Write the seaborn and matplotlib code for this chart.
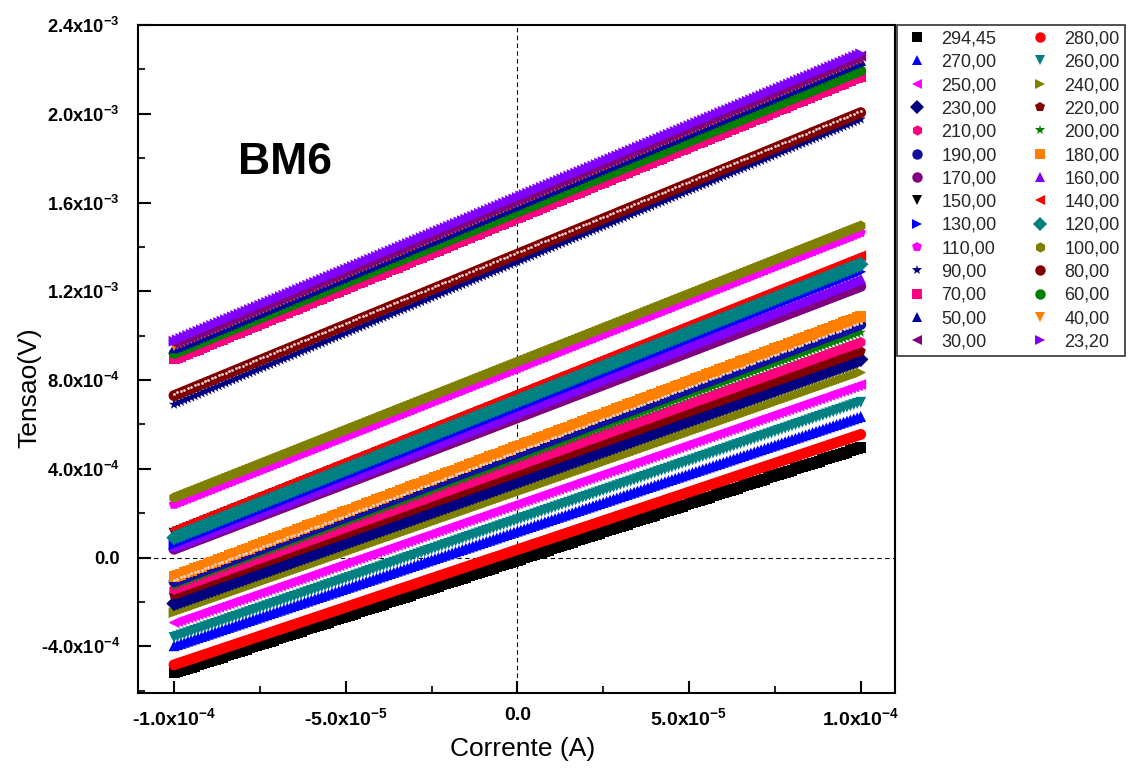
import numpy as np
import pandas as pd
import matplotlib
matplotlib.use("Agg")
import matplotlib.pyplot as plt
from matplotlib.lines import Line2D
from matplotlib.ticker import FixedLocator, MultipleLocator
import seaborn as sns

# Temperatures (K), in legend order
temperatures = ["294,45", "280,00", "270,00", "260,00", "250,00", "240,00", "230,00",
                "220,00", "210,00", "200,00", "190,00", "180,00", "170,00", "160,00",
                "150,00", "140,00", "130,00", "120,00", "110,00", "100,00", "90,00",
                "80,00", "70,00", "60,00", "50,00", "40,00", "30,00", "23,20"]

# Measured voltage at the start (I = -1e-4 A) and end (I = +1e-4 A) of each sweep
v_start = [-0.519e-3, -0.483e-3, -0.397e-3, -0.360e-3, -0.293e-3, -0.248e-3, -0.207e-3,
           -0.167e-3, -0.144e-3, -0.126e-3, -0.108e-3, -0.086e-3, 0.038e-3, 0.052e-3,
           0.110e-3, 0.126e-3, 0.058e-3, 0.090e-3, 0.240e-3, 0.270e-3, 0.690e-3,
           0.730e-3, 0.895e-3, 0.920e-3, 0.945e-3, 0.955e-3, 0.965e-3, 0.975e-3]
v_end = [0.496e-3, 0.555e-3, 0.636e-3, 0.700e-3, 0.780e-3, 0.834e-3, 0.893e-3,
         0.930e-3, 0.970e-3, 1.015e-3, 1.050e-3, 1.087e-3, 1.222e-3, 1.258e-3,
         1.335e-3, 1.360e-3, 1.288e-3, 1.322e-3, 1.465e-3, 1.495e-3, 1.975e-3,
         2.005e-3, 2.170e-3, 2.195e-3, 2.240e-3, 2.250e-3, 2.260e-3, 2.270e-3]

colors = ["#000000", "#FF0000", "#0000FF", "#008080", "#FF00FF", "#808000", "#000080",
          "#800000", "#FF0080", "#008000", "#1010A0", "#FF8000", "#800080", "#8000FF",
          "#000000", "#FF0000", "#0000FF", "#008080", "#FF00FF", "#808000", "#000080",
          "#800000", "#FF0080", "#008000", "#0000A0", "#FF8000", "#800080", "#8000FF"]
markers = ["s", "o", "^", "v", "<", ">", "D", "p", "h", "*", "o", "s", "o", "^",
           "v", "<", ">", "D", "p", "h", "*", "o", "s", "o", "^", "v", "<", ">"]
spheres = ["190,00", "80,00"]

# Current sweep: -100 uA to +100 uA in 1 uA steps
current = np.linspace(-1e-4, 1e-4, 201)

frames = []
for t, vs, ve in zip(temperatures, v_start, v_end):
    frames.append(pd.DataFrame({"I": current,
                                "V": np.linspace(vs, ve, current.size),
                                "T": t}))
df = pd.concat(frames, ignore_index=True)

sns.set_theme(style="white")
plt.rcParams["font.family"] = ["Liberation Sans", "DejaVu Sans"]
plt.rcParams["mathtext.fontset"] = "custom"
plt.rcParams["mathtext.rm"] = "Liberation Sans:bold"
plt.rcParams["mathtext.bf"] = "Liberation Sans:bold"
plt.rcParams["mathtext.default"] = "bf"

fig = plt.figure(figsize=(11.30, 7.69), dpi=100)
ax = fig.add_axes([138 / 1130, 1 - 693 / 769, (895 - 138) / 1130, (693 - 25) / 769])

palette = dict(zip(temperatures, colors))
marker_map = dict(zip(temperatures, markers))

ax.axvline(0, color="black", lw=0.8, ls=(0, (4, 3)), zorder=1)
ax.axhline(0, color="black", lw=0.8, ls=(0, (4, 3)), zorder=1)

sns.scatterplot(data=df, x="I", y="V", hue="T", style="T", hue_order=temperatures,
                style_order=temperatures, palette=palette, markers=marker_map,
                s=62, linewidth=0, legend=False, ax=ax, zorder=2)

# Highlight dots on the sphere markers
hl = df[df["T"].isin(spheres)].copy()
hl["V"] = hl["V"] + 0.008e-3
sns.scatterplot(data=hl, x="I", y="V", color="#F2D8D8", s=4, linewidth=0,
                legend=False, ax=ax, zorder=3)

ax.set_xlim(-1.105e-4, 1.1e-4)
ax.set_ylim(-6.1e-4, 2.4e-3)

xt = [-1e-4, -5e-5, 0, 5e-5, 1e-4]
xl = ["-1.0x10$^{-4}$", "-5.0x10$^{-5}$", "0.0", "5.0x10$^{-5}$", "1.0x10$^{-4}$"]
yt = [-4e-4, 0, 4e-4, 8e-4, 1.2e-3, 1.6e-3, 2.0e-3, 2.4e-3]
yl = ["-4.0x10$^{-4}$", "0.0", "4.0x10$^{-4}$", "8.0x10$^{-4}$", "1.2x10$^{-3}$",
      "1.6x10$^{-3}$", "2.0x10$^{-3}$", "2.4x10$^{-3}$"]
ax.xaxis.set_major_locator(FixedLocator(xt))
ax.set_xticklabels(xl, fontweight="bold")
ax.yaxis.set_major_locator(FixedLocator(yt))
ax.set_yticklabels(yl, fontweight="bold")
ax.xaxis.set_minor_locator(MultipleLocator(2.5e-5))
ax.yaxis.set_minor_locator(MultipleLocator(2e-4))

ax.tick_params(axis="both", which="major", direction="in", length=9, width=1.5,
               colors="black", bottom=True, left=True)
ax.tick_params(axis="x", which="major", labelsize=14, pad=10)
ax.tick_params(axis="y", which="major", labelsize=13.2, pad=13)
ax.tick_params(axis="both", which="minor", direction="in", length=5, width=1.5,
               bottom=True, left=True)

for sp in ax.spines.values():
    sp.set_visible(True)
    sp.set_color("black")
    sp.set_linewidth(1.5)

ax.set_xlabel("Corrente (A)", fontsize=19, color="black")
ax.set_ylabel("Tensao(V)", fontsize=19, color="black")
ax.xaxis.label.set_va("center")
ax.xaxis.set_label_coords(0.508, -0.084)
ax.yaxis.label.set_va("center")
ax.yaxis.set_label_coords(-0.143, 0.457)

fig.text(285 / 1130, 1 - 162 / 769, "BM6", fontsize=32, fontweight="bold",
         ha="center", va="center", color="black")

# Legend: two columns, filled row by row
handles = [Line2D([], [], ls="none", marker=m, color=c, markersize=7.5, markeredgewidth=0)
           for m, c in zip(markers, colors)]
order = list(range(0, len(temperatures), 2)) + list(range(1, len(temperatures), 2))
leg = fig.legend([handles[i] for i in order], [temperatures[i] for i in order],
                 ncol=2, loc="upper left", bbox_to_anchor=(897 / 1130, 1 - 25 / 769),
                 bbox_transform=fig.transFigure, borderaxespad=0, frameon=True,
                 fancybox=False, edgecolor="black", fontsize=13, handlelength=1.6,
                 handletextpad=0.55, labelspacing=0.35, columnspacing=1.6, borderpad=0.3)
leg.get_frame().set_linewidth(1.2)

fig.savefig("out.png", dpi=100, facecolor="white")
